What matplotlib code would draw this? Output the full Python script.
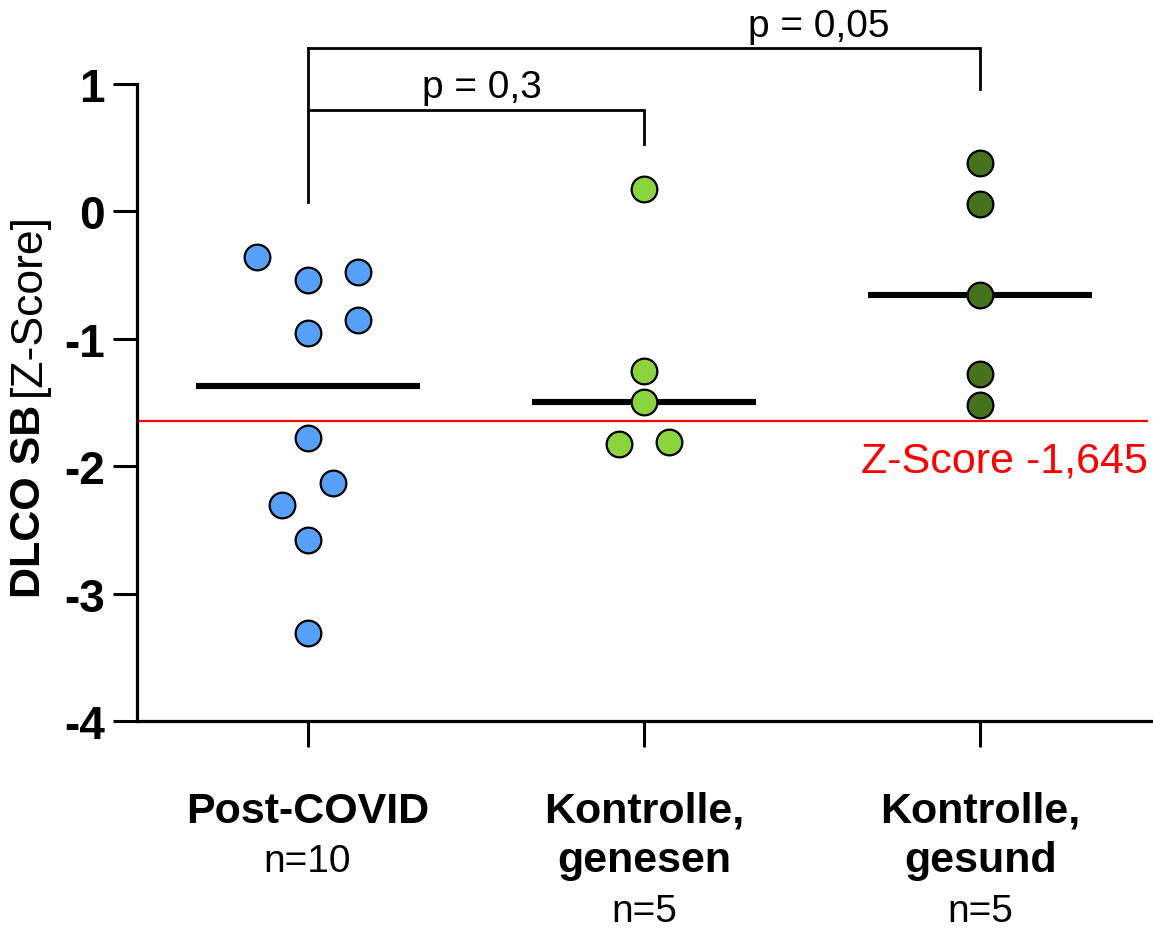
import numpy as np
import matplotlib
matplotlib.use('Agg')
import matplotlib.pyplot as plt
import matplotlib.transforms as mtransforms

plt.rcParams['font.family'] = ['Liberation Sans', 'DejaVu Sans']
plt.rcParams['axes.unicode_minus'] = False

# data
groups = ['Post-COVID', 'Kontrolle,\ngenesen', 'Kontrolle,\ngesund']
n_labels = ['n=10', 'n=5', 'n=5']
post_covid = [-0.356, -0.542, -0.476, -0.955, -0.856, -1.782, -2.130, -2.308, -2.580, -3.312]
post_covid_dx = [-0.15, 0, 0.15, 0, 0.15, 0, 0.075, -0.075, 0, 0]
genesen = [0.173, -1.253, -1.497, -1.829, -1.811]
genesen_dx = [0, 0, 0, -0.075, 0.075]
gesund = [0.382, 0.055, -0.657, -1.279, -1.520]
gesund_dx = [0, 0, 0, 0, 0]
colors = ['#56A0F8', '#89D43F', '#46721D']
z_cut = -1.645
z_label = 'Z-Score -1,645'
# brackets: (group a, group b, top y, right leg end y, label, label x)
brackets = [(0, 1, 0.795, 0.526, 'p = 0,3', 0.52),
            (0, 2, 1.279, 0.958, 'p = 0,05', 1.52)]
bracket_base = 0.073

values = [post_covid, genesen, gesund]
offsets = [post_covid_dx, genesen_dx, gesund_dx]

W, H = 1153, 929
fig = plt.figure(figsize=(W / 100, H / 100), dpi=100)
ax = fig.add_axes([137 / W, 1 - 722 / H, 1 - 137 / W, (722 - 85) / H])
ax.set_xlim(-0.507, 2.514)
ax.set_ylim(-4, 1)

# reference line
ax.hlines(z_cut, -0.507, 2.5, color='#FF0000', lw=1.6, zorder=2)
ax.text(2.5, -2.04, z_label, color='#FF0000', fontsize=31, ha='right', va='baseline')

for i, (v, dx) in enumerate(zip(values, offsets)):
    med = np.median(v)
    ax.plot([i - 0.333, i + 0.333], [med, med], color='black', lw=4.4, zorder=3,
            solid_capstyle='butt')
    ax.plot(i + np.array(dx), v, 'o', ms=18.5, mfc=colors[i], mec='black', mew=1.6,
            zorder=4, clip_on=False)

# significance brackets
ax.plot([0, 0], [bracket_base, max(b[2] for b in brackets)], color='black', lw=2,
        clip_on=False, solid_capstyle='projecting')
for a, b, top, leg, lab, lx in brackets:
    ax.plot([a, b, b], [top, top, leg], color='black', lw=2, clip_on=False,
            solid_joinstyle='miter')
    ax.text(lx, top + 0.1, lab, fontsize=28, ha='center', va='baseline')

# axes styling
for s in ['top', 'right']:
    ax.spines[s].set_visible(False)
for s in ['left', 'bottom']:
    ax.spines[s].set_linewidth(2.3)
ax.set_yticks([-4, -3, -2, -1, 0, 1])
ax.set_yticklabels(['-4', '-3', '-2', '-1', '0', '1'], fontsize=33, fontweight='bold')
ax.tick_params(axis='y', length=17, width=2.2, pad=6)
ax.set_xticks([0, 1, 2])
ax.set_xticklabels([])
ax.tick_params(axis='x', length=19, width=2.2)

# category labels
trans = mtransforms.blended_transform_factory(ax.transData, fig.transFigure)
base = [823, 872, 922]
for i, g in enumerate(groups):
    lines = g.split('\n')
    for k, line in enumerate(lines):
        ax.text(i, 1 - base[k] / H, line, transform=trans, fontsize=31,
                fontweight='bold', ha='center', va='baseline')
    ax.text(i, 1 - base[len(lines)] / H, n_labels[i], transform=trans, fontsize=28,
            ha='center', va='baseline')

# y label: bold part + regular part
t1 = fig.text(40 / W, 1 - 598 / H, 'DLCO SB', rotation=90, rotation_mode='anchor',
              ha='left', va='baseline', fontsize=31, fontweight='bold')
fig.canvas.draw()
bb = t1.get_window_extent(fig.canvas.get_renderer())
fig.text(40 / W, (bb.y1 + 9) / H, '[Z-Score]', rotation=90, rotation_mode='anchor',
         ha='left', va='baseline', fontsize=32)

fig.savefig('out.png', dpi=100)
